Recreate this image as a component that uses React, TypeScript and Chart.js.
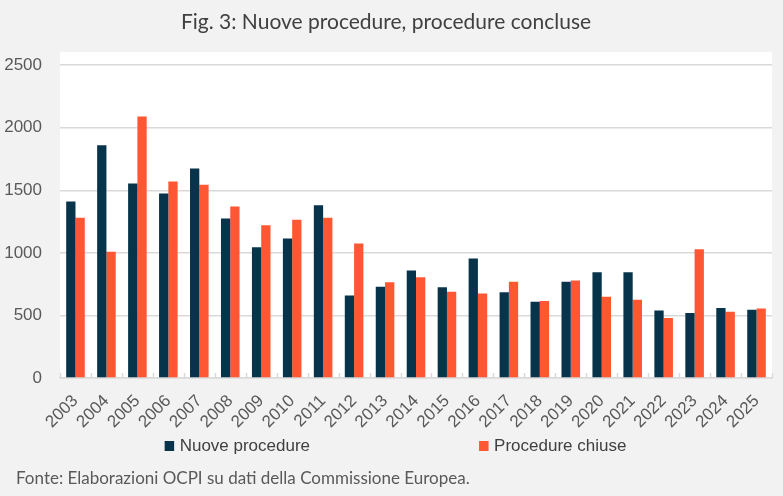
import { useEffect, useRef } from 'react';
import { Chart, registerables } from 'chart.js';

Chart.register(...registerables);

const years = ['2003', '2004', '2005', '2006', '2007', '2008', '2009', '2010', '2011', '2012', '2013', '2014',
    '2015', '2016', '2017', '2018', '2019', '2020', '2021', '2022', '2023', '2024', '2025'];
const nuoveProcedure = [1410, 1860, 1555, 1475, 1675, 1275, 1045, 1115, 1380, 660, 730, 860,
    725, 955, 685, 610, 770, 845, 845, 540, 520, 560, 545];
const procedureChiuse = [1280, 1010, 2090, 1570, 1545, 1370, 1220, 1265, 1280, 1075, 765, 805,
    690, 675, 770, 615, 780, 650, 625, 480, 1030, 530, 555];
const yTicks = [0, 500, 1000, 1500, 2000, 2500];

const NAVY = '#07344A';
const ORANGE = '#FF5733';
const GRID = '#D9D9D9';

// background, white plot box, inward axis ticks, legend and source line
const framePlugin = {
    id: 'frame',
    beforeDraw(chart: any) {
        const { ctx, chartArea } = chart;
        ctx.save();
        ctx.fillStyle = '#F2F2F2';
        ctx.fillRect(0, 0, chart.width, chart.height);
        ctx.fillStyle = '#FFFFFF';
        ctx.fillRect(chartArea.left, chartArea.top - 13, chartArea.right - chartArea.left, chartArea.bottom - chartArea.top + 13);
        ctx.restore();
    },
    afterDraw(chart: any) {
        const { ctx, chartArea } = chart;
        const x = chart.scales.x;
        const n = chart.data.labels.length;
        const step = (chartArea.right - chartArea.left) / n;
        ctx.save();
        ctx.strokeStyle = GRID;
        ctx.lineWidth = 1.5;
        ctx.beginPath();
        for (let i = 0; i <= n; i++) {
            const px = Math.round(x.getPixelForValue(0) - step / 2 + i * step) + 0.5;
            ctx.moveTo(px, chartArea.bottom - 5);
            ctx.lineTo(px, chartArea.bottom);
        }
        ctx.stroke();

        // legend
        ctx.font = '17px "Liberation Sans"';
        ctx.textBaseline = 'middle';
        const items = chart.data.datasets.map((d: any) => ({ text: d.label, color: d.backgroundColor }));
        const gap = 169;
        const widths = items.map((it: any) => 15 + ctx.measureText(it.text).width);
        const total = widths.reduce((a: number, b: number) => a + b, 0) + gap * (items.length - 1);
        let cx = 395.5 - total / 2;
        const cy = 446;
        items.forEach((it: any, i: number) => {
            ctx.fillStyle = it.color;
            ctx.fillRect(cx, cy - 5, 9.5, 10);
            ctx.fillStyle = '#404040';
            ctx.fillText(it.text, cx + 15, cy);
            cx += widths[i] + gap;
        });

        ctx.font = '17px Lato';
        ctx.fillStyle = '#595959';
        ctx.fillText('Fonte: Elaborazioni OCPI su dati della Commissione Europea.', 16, 479);
        ctx.restore();
    },
};

const App = () => {
    const chartRef = useRef<HTMLCanvasElement | null>(null);
    const chartInstance = useRef<Chart<'bar', number[], string> | null>(null);

    useEffect(() => {
        document.body.style.margin = '0';
        if (chartRef.current) {
            if (chartInstance.current) {
                chartInstance.current.destroy();
            }
            chartInstance.current = new Chart(chartRef.current, {
                type: 'bar',
                data: {
                    labels: years,
                    datasets: [
                        { label: 'Nuove procedure', data: nuoveProcedure, backgroundColor: NAVY },
                        { label: 'Procedure chiuse', data: procedureChiuse, backgroundColor: ORANGE },
                    ],
                },
                options: {
                    responsive: false,
                    animation: false,
                    layout: { padding: { left: 0, right: 11, top: 0, bottom: 64 } },
                    datasets: { bar: { barPercentage: 1, categoryPercentage: 0.6 } },
                    scales: {
                        x: {
                            afterFit: (scale: any) => { scale.height = 54; },
                            grid: { display: false },
                            border: { display: true, color: GRID, width: 1.5 },
                            ticks: {
                                autoSkip: false,
                                minRotation: 45,
                                maxRotation: 45,
                                padding: 5,
                                color: '#595959',
                                font: { family: '"Liberation Sans"', size: 17 },
                            },
                        },
                        y: {
                            min: 0,
                            max: 2500,
                            afterFit: (scale: any) => { scale.width = 60; },
                            afterBuildTicks: (scale: any) => { scale.ticks = yTicks.map((v) => ({ value: v })); },
                            grid: { color: GRID, lineWidth: 1.5, drawTicks: false },
                            border: { display: false },
                            ticks: {
                                padding: 18,
                                color: '#595959',
                                font: { family: '"Liberation Sans"', size: 17 },
                                callback: (v: any) => String(v),
                            },
                        },
                    },
                    plugins: {
                        legend: { display: false },
                        tooltip: { enabled: false },
                        title: {
                            display: true,
                            text: 'Fig. 3: Nuove procedure, procedure concluse',
                            color: '#404040',
                            font: { family: 'Lato', size: 21, weight: 'normal' },
                            padding: { top: 10, bottom: 30 },
                        },
                    },
                },
                plugins: [framePlugin],
            });
        }

        return () => {
            if (chartInstance.current) {
                chartInstance.current.destroy();
                chartInstance.current = null;
            }
        };
    }, []);

    return (
        <div style={{ width: 783, height: 496 }}>
            <canvas ref={chartRef} width={783} height={496}></canvas>
        </div>
    );
};

export default App;
